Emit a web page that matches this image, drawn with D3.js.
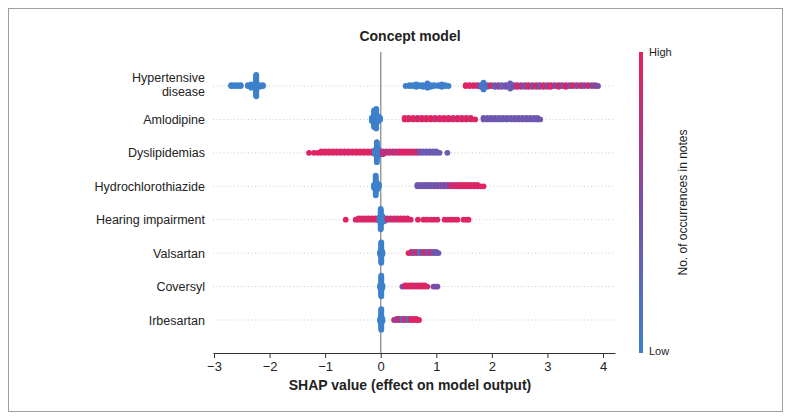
<!DOCTYPE html>
<html><head><meta charset="utf-8">
<script src="https://cdn.jsdelivr.net/npm/d3@7"></script>
<style>
body{margin:0;background:#fff}
text{font-family:"Liberation Sans",Arial,Helvetica,sans-serif;fill:#222}
</style>
</head><body>
<svg id="chart" width="791" height="420"></svg>
<script>
// ---------- data ----------
const features = ["Hypertensive disease","Amlodipine","Dyslipidemias","Hydrochlorothiazide",
  "Hearing impairment","Valsartan","Coversyl","Irbesartan"];
const featureLabels = [["Hypertensive","disease"],["Amlodipine"],["Dyslipidemias"],["Hydrochlorothiazide"],
  ["Hearing impairment"],["Valsartan"],["Coversyl"],["Irbesartan"]];
const xTicks = [-3,-2,-1,0,1,2,3,4];
const chartTitle = "Concept model";
const xTitle = "SHAP value (effect on model output)";
const colorTitle = "No. of occurrences in notes";
const colorEnds = ["High","Low"];

// each entry: [SHAP value, number of notes at that value, feature value 0 (low) .. 1 (high)]
const hypertensiveDisease = [
  [-2.69,2,0],[-2.64,2,0],[-2.58,2,0],[-2.52,2,0],
  [-2.39,2,0],[-2.33,3,0],[-2.24,26,0],[-2.18,3,0],[-2.12,2,0],
  [0.45,1,0],[0.52,2,0],[0.58,2,0],[0.64,2,0],[0.70,2,0],[0.76,3,0],[0.84,6,0.05],[0.90,3,0],[0.96,2,0],
  [1.04,2,0],[1.10,2,0],[1.16,2,0],[1.22,1,0],
  [1.53,2,0.95],[1.60,2,0.95],[1.67,2,0.9],[1.74,2,0.85],[1.80,3,0.3],[1.85,9,0.05],[1.92,3,0.2],
  [1.98,2,0.9],[2.05,3,0.4],[2.12,3,0.6],[2.18,3,0.3],[2.25,3,0.5],[2.33,7,0.35],[2.40,3,0.45],
  [2.46,3,0.9],[2.53,3,0.7],[2.60,3,0.5],[2.66,3,0.95],[2.73,3,0.55],[2.80,3,0.9],[2.86,3,0.5],
  [2.93,3,0.9],[3.00,3,0.6],[3.06,3,0.95],[3.13,2,0.55],[3.20,3,0.85],[3.26,2,0.6],[3.33,3,0.9],
  [3.40,2,0.55],[3.46,2,0.9],[3.53,2,0.6],[3.60,2,0.9],[3.66,2,0.55],[3.73,2,0.9],[3.80,2,0.55],
  [3.86,2,0.6],[3.91,1,0.5]
];
const amlodipine = [
  [-0.16,3,0],[-0.12,12,0],[-0.08,14,0],[-0.04,4,0],[-0.01,2,0],
  [0.43,2,0.95],[0.50,2,0.9],[0.58,2,0.95],[0.66,2,0.85],[0.74,2,0.95],[0.82,2,0.9],[0.90,2,0.95],
  [0.98,2,0.85],[1.06,2,0.95],[1.14,2,0.9],[1.22,2,0.95],[1.30,2,0.85],[1.38,2,0.95],[1.46,2,0.9],
  [1.54,2,0.95],[1.62,2,0.9],[1.70,1,0.95],
  [1.85,2,0.4],[1.92,2,0.38],[1.99,2,0.4],[2.06,2,0.42],[2.13,2,0.38],[2.20,2,0.4],[2.27,2,0.4],
  [2.34,2,0.38],[2.41,2,0.42],[2.48,2,0.4],[2.55,2,0.38],[2.62,2,0.4],[2.69,2,0.4],[2.76,2,0.38],
  [2.82,2,0.4],[2.87,1,0.4]
];
const dyslipidemias = [
  [-1.29,1,0.95],[-1.20,1,0.95],[-1.13,1,0.95],[-1.07,2,0.95],[-1.00,2,0.9],[-0.93,2,0.95],
  [-0.86,2,0.9],[-0.79,2,0.95],[-0.72,2,0.85],[-0.65,2,0.95],[-0.58,2,0.9],[-0.51,2,0.95],
  [-0.44,2,0.9],[-0.37,2,0.95],[-0.30,2,0.9],[-0.23,2,0.95],[-0.16,2,0.9],
  [-0.10,4,0],[-0.07,16,0],[-0.04,6,0],[-0.01,3,0.1],
  [0.04,3,0.8],[0.10,2,0.75],[0.16,2,0.85],[0.22,2,0.8],[0.28,2,0.75],[0.34,2,0.9],[0.40,2,0.95],
  [0.46,2,0.9],[0.52,2,0.95],[0.58,2,0.85],[0.64,2,0.9],[0.70,2,0.5],[0.76,2,0.4],[0.82,2,0.35],
  [0.88,2,0.4],[0.94,2,0.35],[1.00,2,0.4],[1.06,1,0.35],[1.20,1,0.35]
];
const hydrochlorothiazide = [
  [-0.12,3,0],[-0.09,14,0],[-0.06,5,0],[-0.03,2,0],
  [0.66,2,0.4],[0.72,2,0.4],[0.78,2,0.45],[0.84,2,0.4],[0.90,2,0.45],[0.96,2,0.4],[1.02,2,0.5],
  [1.08,2,0.45],[1.14,2,0.55],[1.20,2,0.5],[1.26,2,0.8],[1.32,2,0.9],[1.38,2,0.85],[1.44,2,0.95],
  [1.50,2,0.9],[1.56,2,0.95],[1.62,2,0.9],[1.68,2,0.95],[1.74,2,0.9],[1.80,1,0.95],[1.85,1,0.95]
];
const hearingImpairment = [
  [-0.63,1,0.95],[-0.45,1,0.95],[-0.40,2,0.9],[-0.34,2,0.95],[-0.28,2,0.85],[-0.22,2,0.95],
  [-0.16,2,0.9],[-0.10,2,0.95],[-0.05,2,0.9],
  [-0.02,4,0],[0.00,18,0],[0.03,6,0],[0.07,3,0],
  [0.12,2,0.85],[0.18,2,0.8],[0.24,2,0.9],[0.30,2,0.85],[0.36,2,0.95],[0.42,2,0.9],[0.48,2,0.95],
  [0.54,1,0.9],[0.67,1,0.95],[0.77,1,0.9],[0.83,1,0.95],[0.90,1,0.9],[0.96,1,0.95],[1.02,1,0.9],
  [1.15,1,0.95],[1.21,1,0.9],[1.27,1,0.95],[1.33,1,0.9],[1.38,1,0.95],[1.49,1,0.95],[1.55,1,0.9],
  [1.58,1,0.95]
];
const valsartan = [
  [-0.01,3,0],[0.01,18,0],[0.03,3,0],
  [0.50,1,0.95],[0.55,2,0.9],[0.60,2,0.5],[0.65,2,0.95],[0.70,2,0.1],[0.75,2,0.6],[0.80,2,0.9],
  [0.85,2,0.4],[0.90,2,0.85],[0.95,2,0.45],[1.00,2,0.4],[1.04,1,0.4]
];
const coversyl = [
  [-0.01,3,0],[0.01,18,0],[0.03,3,0],
  [0.39,1,0.45],[0.44,2,0.9],[0.49,2,0.95],[0.54,2,0.9],[0.59,2,0.95],[0.64,2,0.85],[0.69,2,0.95],
  [0.74,2,0.9],[0.79,2,0.95],[0.84,1,0.9],[0.95,1,0.5],[0.99,1,0.45],[1.02,1,0.5]
];
const irbesartan = [
  [-0.01,3,0],[0.01,18,0],[0.03,3,0],
  [0.24,1,0.9],[0.29,2,0.5],[0.34,2,0.9],[0.39,2,0.3],[0.44,2,0.95],[0.49,2,0.2],[0.54,2,0.9],
  [0.59,2,0.95],[0.64,2,0.9],[0.69,1,0.95]
];
const shapData = [hypertensiveDisease, amlodipine, dyslipidemias, hydrochlorothiazide,
  hearingImpairment, valsartan, coversyl, irbesartan];

// ---------- drawing ----------
const svg = d3.select("#chart");
svg.append("rect").attr("x",8.5).attr("y",8.5).attr("width",774).attr("height",403)
  .attr("fill","none").attr("stroke","#a0a0a0").attr("stroke-width",1);

const x = d3.scaleLinear().domain([-3.018, 4.216]).range([213, 615]);
const y = d3.scalePoint().domain(features).range([86, 320]);
const rowStep = y.step();
const plotTop = 52, plotBottom = 353;

const color = d3.scaleLinear().domain([0, 0.5, 1])
  .range(["#3d80cc", "#7a4ea8", "#ec1e5a"]).interpolate(d3.interpolateRgb);

// grid lines
svg.append("g").selectAll("line").data(features).join("line")
  .attr("x1", x.range()[0]).attr("x2", x.range()[1])
  .attr("y1", d => y(d)).attr("y2", d => y(d))
  .attr("stroke", "#cccccc").attr("stroke-width", 1).attr("stroke-dasharray", "1,2.5");

// zero line
svg.append("line").attr("x1", x(0)).attr("x2", x(0)).attr("y1", plotTop).attr("y2", plotBottom)
  .attr("stroke", "#999").attr("stroke-width", 1.5);

// beeswarm (shap style binning)
const dots = svg.append("g");
features.forEach((f, i) => {
  const pts = [];
  shapData[i].forEach(([v, c, col]) => { for (let k = 0; k < c; k++) pts.push({v, col}); });
  const mn = d3.min(pts, p => p.v), mx = d3.max(pts, p => p.v);
  pts.forEach((p, j) => { p.q = Math.round(100 * (p.v - mn) / (mx - mn + 1e-8)); p.j = j; });
  const order = pts.slice().sort((a, b) => a.q - b.q || a.j - b.j);
  let layer = 0, last = -1;
  order.forEach(p => {
    if (p.q !== last) layer = 0;
    p.ys = Math.ceil(layer / 2) * ((layer % 2) * 2 - 1);
    layer++; last = p.q;
  });
  const maxY = d3.max(pts, p => p.ys + 1);
  const s = 0.9 * 0.4 * rowStep / maxY;
  dots.append("g").selectAll("circle").data(pts).join("circle")
    .attr("cx", p => x(p.v)).attr("cy", p => y(f) - p.ys * s)
    .attr("r", 2.9).attr("fill", p => color(p.col));
});

// x axis
const xAxis = d3.axisBottom(x).tickValues(xTicks).tickSize(5).tickSizeOuter(0).tickPadding(4);
const gx = svg.append("g").attr("transform", `translate(0,${plotBottom})`).call(xAxis);
gx.select(".domain").attr("stroke", "#333");
gx.selectAll(".tick line").attr("stroke", "#333");
gx.selectAll(".tick text").style("font-size", "13px").attr("fill", "#222")
  .style("font-family", '"Liberation Sans",Arial,sans-serif');

// y labels
const yl = svg.append("g");
features.forEach((f, i) => {
  const lines = featureLabels[i];
  const t = yl.append("text").attr("text-anchor", "end").style("font-size", "12.5px");
  lines.forEach((ln, k) => {
    const base = lines.length === 1 ? y(f) + 4.5 : y(f) - 4 + k * 13.5;
    t.append("tspan").attr("x", 205).attr("y", base).text(ln);
  });
});

// titles
svg.append("text").attr("x", 410).attr("y", 41).attr("text-anchor", "middle")
  .style("font-size", "14px").style("font-weight", "bold").text(chartTitle);
svg.append("text").attr("x", 410).attr("y", 390).attr("text-anchor", "middle")
  .style("font-size", "14px").style("font-weight", "bold").text(xTitle);

// colour bar
const defs = svg.append("defs");
const grad = defs.append("linearGradient").attr("id", "cbar")
  .attr("x1", 0).attr("y1", 1).attr("x2", 0).attr("y2", 0);
[0, 0.25, 0.5, 0.75, 1].forEach(t => grad.append("stop").attr("offset", t).attr("stop-color", color(t)));
svg.append("rect").attr("x", 639).attr("y", plotTop).attr("width", 4).attr("height", plotBottom - plotTop)
  .attr("fill", "url(#cbar)");
svg.append("text").attr("x", 649).attr("y", plotTop + 4).style("font-size", "11px").text(colorEnds[0]);
svg.append("text").attr("x", 649).attr("y", plotBottom + 2).style("font-size", "11px").text(colorEnds[1]);
svg.append("text").attr("transform", `translate(687,${(plotTop + plotBottom) / 2}) rotate(-90)`)
  .attr("text-anchor", "middle").style("font-size", "12px").text(colorTitle);
</script>
</body></html>
